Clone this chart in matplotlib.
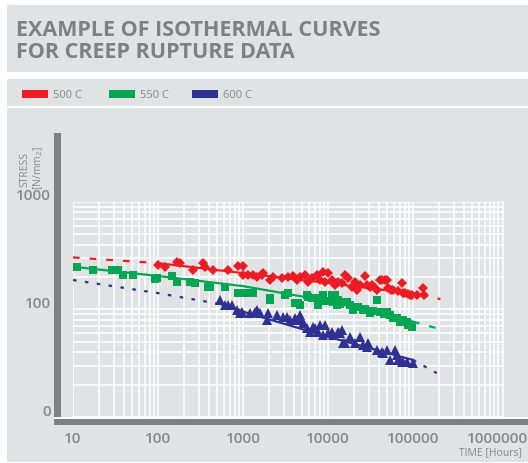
import matplotlib
matplotlib.use("Agg")
import matplotlib.pyplot as plt
from matplotlib.patches import Rectangle
from matplotlib.ticker import LogLocator, NullFormatter
from matplotlib.transforms import ScaledTranslation

plt.rcParams["font.family"] = ["Open Sans", "DejaVu Sans"]

# ---- data (time in hours, stress in N/mm2) ----
series_names = ["500 C", "550 C", "600 C"]
series_colors = ["#ed1c24", "#00a651", "#2e3192"]

red_t = [100, 121, 167, 181, 258, 338, 357, 444, 667, 874, 1000, 1000, 1145, 1312,
         1462, 1675, 1718, 2080, 2255, 2877, 3380, 3873, 4315, 4686, 5360, 5820,
         7430, 8054, 8730, 10000, 11150, 12080, 13120, 15850, 17180, 19150, 20800,
         21950, 27230, 28770, 32960, 37700, 40900, 43200, 46900, 49400, 50800,
         58200, 74300, 76200, 80500, 92200, 97300, 111400, 131200, 134600,
         6500, 9300, 14500, 24000, 31000, 36000, 55000, 66000, 88000]
red_s = [260, 249, 277, 271, 233, 271, 249, 233, 233, 254, 254, 209, 209, 209,
         201, 209, 219, 188, 201, 196, 201, 205, 188, 201, 209, 180,
         209, 188, 223, 219, 188, 169, 180, 209, 196, 162, 180,
         152, 205, 169, 169, 152, 188, 188, 188, 188, 158,
         152, 176, 142, 142, 136, 136, 136, 158, 136,
         196, 180, 176, 169, 162, 158, 152, 148, 140]

green_t = [11.1, 17.2, 28.8, 33.8, 38.8, 50.8, 92, 97, 146, 167, 238, 272, 387, 409,
           614, 874, 922, 973, 1115, 1208, 1312, 2080, 2080, 3120, 3380, 4090, 4440,
           4686, 5660, 5820, 6490, 7620, 8054, 8730, 11150, 11460, 12080, 12760,
           13120, 15850, 16740, 18160, 19680, 21950, 22540, 25800, 31200, 37700,
           40900, 49400, 53600, 58200, 64900, 70300, 76200, 84900, 87300, 97300,
           9500, 14000, 27000, 34000, 45000]
green_s = [249, 233, 233, 233, 209, 209, 192, 196, 205, 180, 180, 176, 162, 162,
           162, 142, 142, 142, 142, 142, 142, 128, 122.5, 136, 142, 115, 115,
           110, 136, 131, 128, 110, 128, 136, 136, 117, 136, 110,
           122.5, 117, 117, 110, 98.9, 105.5, 105.5, 98.9, 92.7, 122.5,
           94.8, 94.8, 88.9, 83.4, 83.4, 76.6, 79.8, 76.6, 71.8, 68.7,
           120, 112, 100, 96, 90]

blue_t = [536, 614, 667, 743, 850, 922, 973, 1208, 1384, 1462, 1585, 1915, 1968,
          2512, 2955, 3296, 3573, 4090, 4315, 4686, 4945, 5080, 5660, 6140, 6670,
          7030, 7620, 8054, 8730, 9220, 10000, 11150, 11460, 13120, 13840, 14620,
          15000, 15850, 18160, 20800, 23770, 25800, 28770, 29580, 37700, 43200,
          44400, 49400, 53600, 61400, 64900, 66700, 74300, 76200, 84900, 100000]
blue_s = [122.5, 110, 110, 110, 98.9, 92.7, 94.8, 92.7, 94.8, 98.9, 92.7, 79.8, 92.7,
          88.9, 85.1, 85.1, 79.8, 83.4, 79.8, 88.9, 79.8, 74.8, 67.3, 61.8, 68.7,
          67.3, 61.8, 71.8, 57.9, 71.8, 60.4, 61.8, 57.9, 61.8, 60.4, 64.4,
          48.8, 48.8, 55.5, 48.8, 55.5, 46.8, 44.8, 48.8, 42.0, 40.3,
          39.4, 42.0, 33.9, 42.0, 37.7, 33.9, 32.5, 32.5, 32.5, 31.8]

# isothermal fit curves: extrapolated-left, measured range, extrapolated-right
red_fit_t = [10, 100, 1000, 10000, 100000, 125000, 210000]
red_fit_s = [305, 270, 218, 176, 141, 136, 125]
red_fit_solid = (1, 5)

green_fit_t = [10, 100, 1000, 10000, 100000, 220000]
green_fit_s = [250, 205, 165, 120, 77, 65]
green_fit_solid = (0, 4)

blue_fit_t = [10, 100, 550, 1000, 10000, 100000, 190000]
blue_fit_s = [188, 142, 112, 95.5, 55.8, 33.9, 25.6]
blue_fit_solid = (2, 5)

x_ticks = [10, 100, 1000, 10000, 100000, 1000000]
x_tick_labels = ["10", "100", "1000", "10000", "100000", "1000000"]
y_ticks = [10, 100, 1000]
y_tick_labels = ["0", "100", "1000"]

W, H = 528, 463
PANEL = "#e1e2e4"
GREY = "#808080"
TEXT = "#87888a"

fig = plt.figure(figsize=(W / 100, H / 100), dpi=100)
fig.patch.set_facecolor("white")


def rect(x0, y0, x1, y1, color, z=0):
    fig.patches.append(Rectangle((x0 / W, 1 - y1 / H), (x1 - x0) / W, (y1 - y0) / H,
                                 transform=fig.transFigure, facecolor=color,
                                 edgecolor="none", zorder=z))


# background panels
rect(7, 5, W, 72, PANEL, -2)
rect(7, 79, W, 106, PANEL, -2)
rect(7, 108, W, 462, PANEL, -2)

fig.text(16 / W, 1 - 20 / H, "EXAMPLE OF ISOTHERMAL CURVES\nFOR CREEP RUPTURE DATA",
         ha="left", va="top", fontsize=15.5, fontweight="bold", color=GREY,
         linespacing=1.05)

# legend
leg_x = [22, 109, 192]
for x0, name, c in zip(leg_x, series_names, series_colors):
    rect(x0, 90, x0 + 26, 98, c, 2)
    fig.text((x0 + 31) / W, 1 - 95 / H, name, ha="left", va="center",
             fontsize=8, color=TEXT)

# axis bars
rect(54, 133, 61, 417, GREY, 1)
rect(54, 416.5, W, 419, "white", 1)
rect(54, 419, W, 425, GREY, 1)

ax = fig.add_axes([73 / W, 1 - 417 / H, 430 / W, 215 / H])
ax.set_zorder(3)
ax.set_facecolor("none")
ax.set_xscale("log")
ax.set_yscale("log")
ax.set_xlim(10, 10 ** (1 + 430 / 85))
ax.set_ylim(10, 1000)

ax.xaxis.set_minor_locator(LogLocator(base=10, subs=range(2, 10), numticks=20))
ax.yaxis.set_minor_locator(LogLocator(base=10, subs=range(2, 10), numticks=20))
ax.xaxis.set_minor_formatter(NullFormatter())
ax.yaxis.set_minor_formatter(NullFormatter())
ax.grid(which="both", color="white", lw=1.1)
ax.set_axisbelow(True)
for side in ["left", "top", "bottom"]:
    ax.spines[side].set_visible(False)
ax.spines["right"].set_color("white")
ax.spines["right"].set_linewidth(1.1)

ax.set_xticks(x_ticks)
ax.set_xticklabels(x_tick_labels, fontweight="semibold")
ax.set_yticks(y_ticks)
ax.set_yticklabels(y_tick_labels, fontweight="semibold")
ax.tick_params(which="both", length=0)
ax.tick_params(axis="x", pad=11, labelsize=11, labelcolor=TEXT)
ax.tick_params(axis="y", pad=16, labelsize=11, labelcolor=TEXT)
for lab in ax.get_yticklabels():
    lab.set_transform(lab.get_transform() + ScaledTranslation(0, 7 / 100, fig.dpi_scale_trans))

# scatter data
ax.plot(red_t, red_s, "D", color=series_colors[0], ms=5, mew=0, zorder=3)
ax.plot(green_t, green_s, "s", color=series_colors[1], ms=6, mew=0, zorder=3)
ax.plot(blue_t, blue_s, "^", color=series_colors[2], ms=6.5, mew=0, zorder=3)

# fit curves
fits = [(red_fit_t, red_fit_s, red_fit_solid, (0, (3, 4.5))),
        (green_fit_t, green_fit_s, green_fit_solid, (0, (3, 4.5))),
        (blue_fit_t, blue_fit_s, blue_fit_solid, (0, (1.6, 3.8)))]
for (ft, fs, (i0, i1), dash), c in zip(fits, series_colors):
    ax.plot(ft[:i0 + 1], fs[:i0 + 1], color=c, lw=1.6, ls=dash, zorder=2)
    ax.plot(ft[i0:i1 + 1], fs[i0:i1 + 1], color=c, lw=1.6, zorder=2)
    ax.plot(ft[i1:], fs[i1:], color=c, lw=1.6, ls=dash, zorder=2)

fig.text(19 / W, 1 - 187 / H, "STRESS", rotation=90, ha="left", va="bottom",
         fontsize=7.5, color=TEXT)
fig.text(31 / W, 1 - 190 / H, "[N/mm$_2$]", rotation=90, ha="left", va="bottom",
         fontsize=7.5, color=TEXT)
fig.text(522 / W, 1 - 453 / H, "TIME [Hours]", ha="right", va="center",
         fontsize=7.5, color=TEXT)

fig.savefig("out.png", dpi=100)
